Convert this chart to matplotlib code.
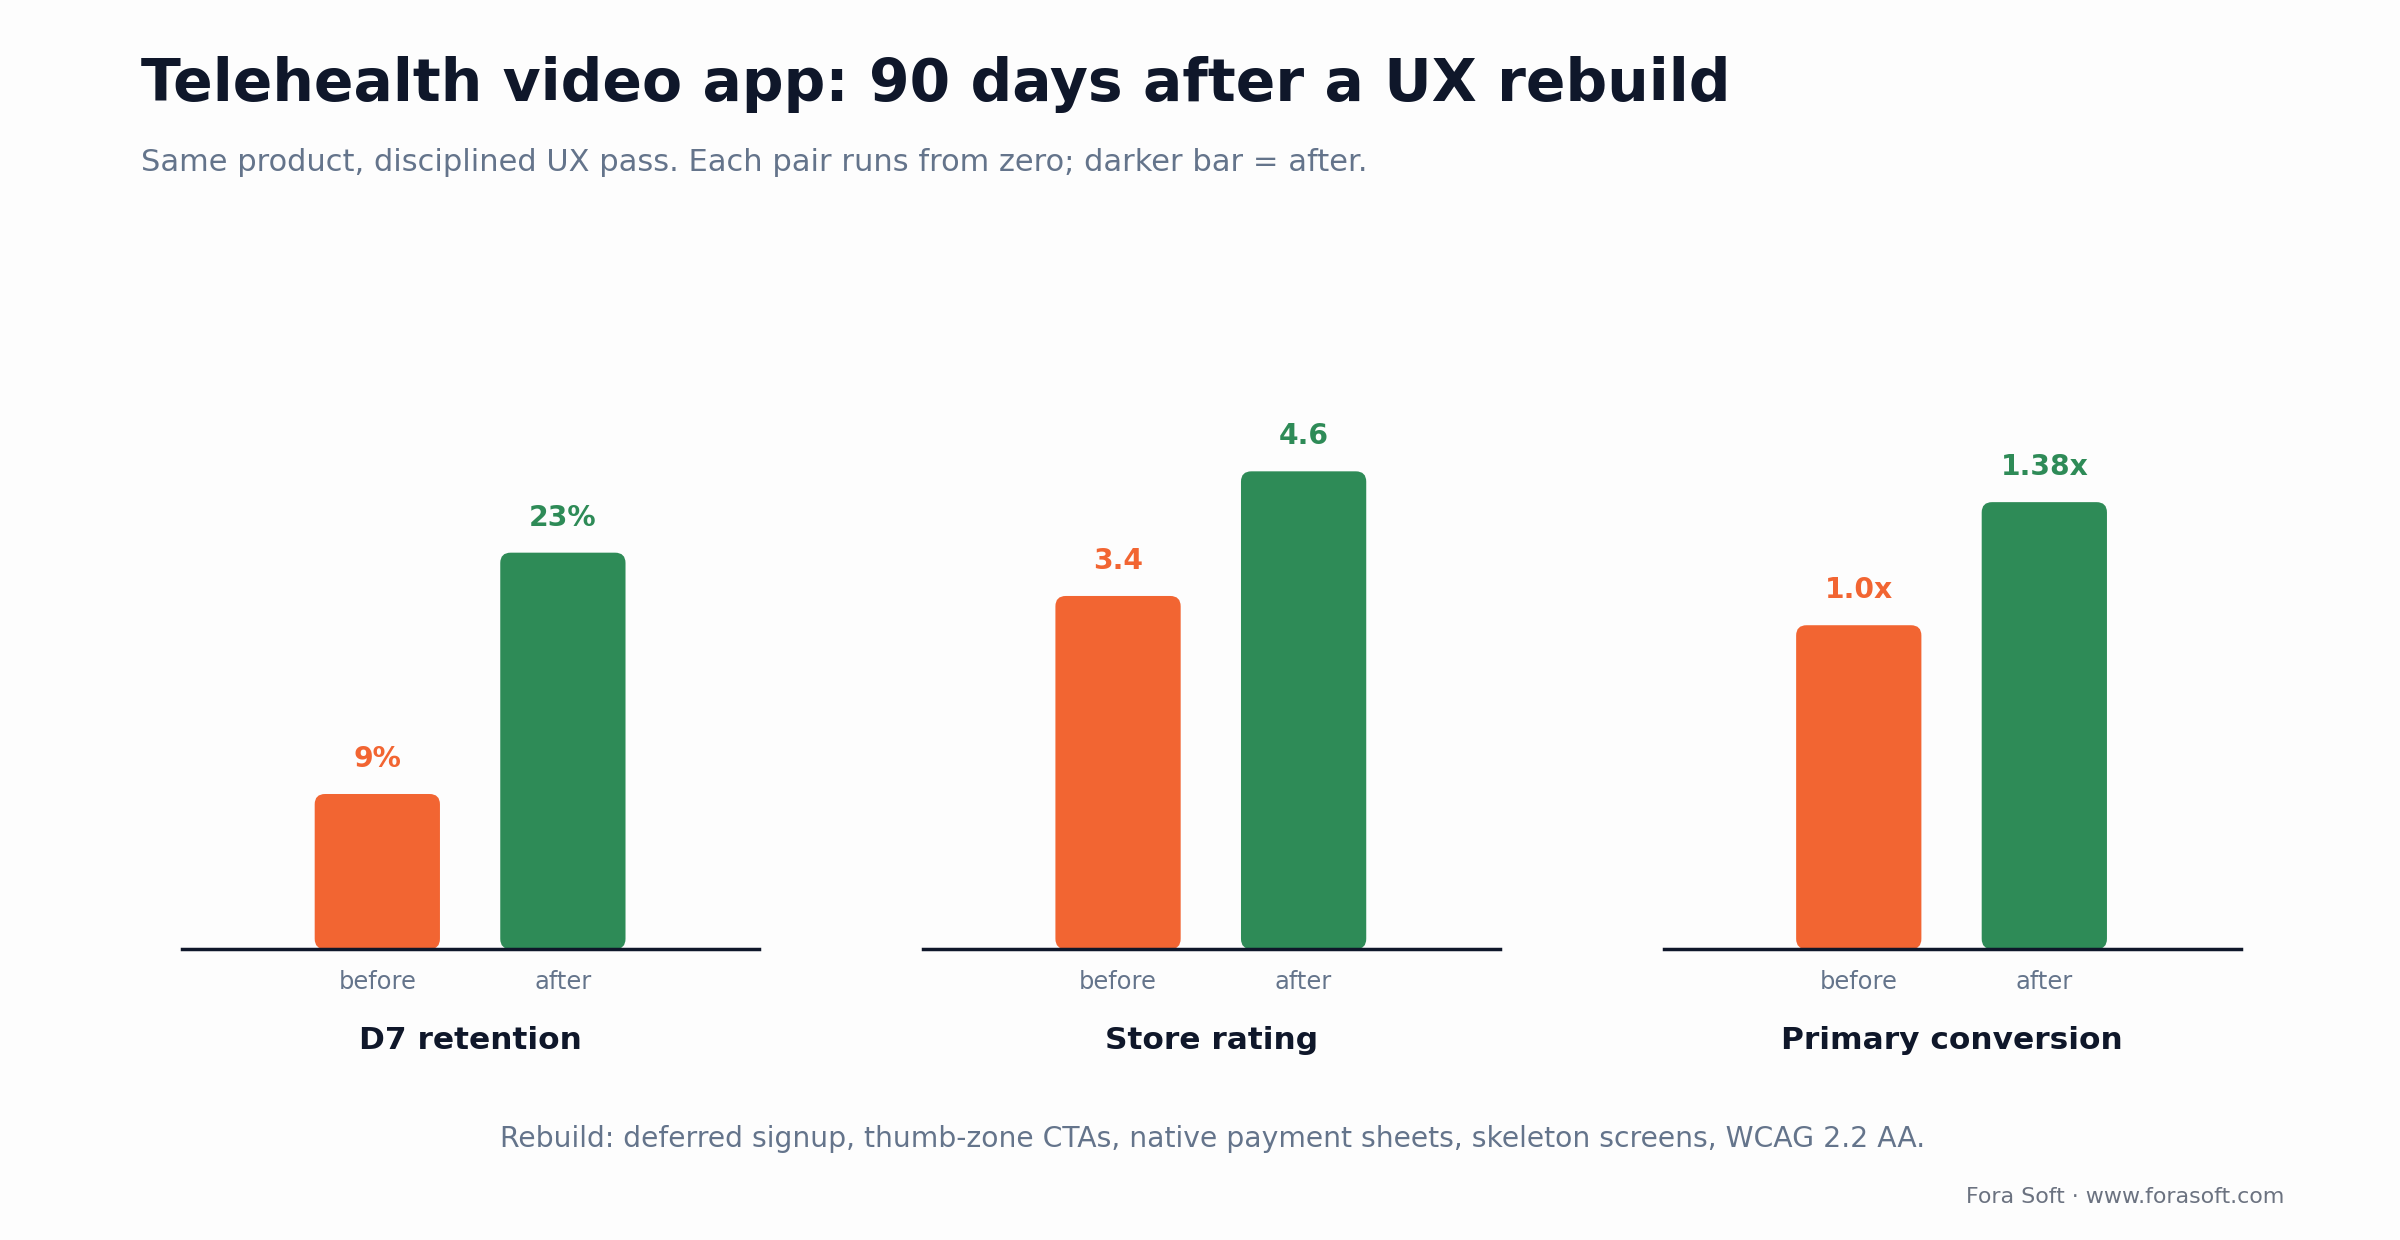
import matplotlib
matplotlib.use("Agg")
import matplotlib.pyplot as plt
from matplotlib.patches import FancyBboxPatch

categories = ["D7 retention", "Store rating", "Primary conversion"]
before_vals = [9, 3.4, 1.0]
after_vals = [23, 4.6, 1.38]
before_labels = ["9%", "3.4", "1.0x"]
after_labels = ["23%", "4.6", "1.38x"]
y_tops = [37.3, 6.19, 1.985]
tick_labels = ["before", "after"]

ORANGE = "#F26532"; GREEN = "#2E8B57"; DARK = "#0F172A"; GRAY = "#64748B"
plt.rcParams['font.family'] = ['DejaVu Sans']
W, H = 1552, 810
S = 1.45
fig = plt.figure(figsize=(24, 12.4), dpi=100, facecolor="#FDFDFD")

def fx(x): return x / W
def fy(y): return 1 - y / H

lefts = [118, 597, 1076]
pw = 373
base, top = 620, 200
for i, l in enumerate(lefts):
    ax = fig.add_axes([fx(l), fy(base), pw / W, (base - top) / H])
    ax.set_xlim(0, 1); ax.set_ylim(0, y_tops[i])
    ax.axis("off")
    ax.patch.set_alpha(0)
    xs = [(244 - 118) / pw, (364 - 118) / pw]
    bw = 81 / pw
    aspect = (y_tops[i] / (base - top)) / (1 / pw)
    bars = ax.bar(xs, [before_vals[i], after_vals[i]], width=bw, color=[ORANGE, GREEN])
    for b, c in zip(bars, [ORANGE, GREEN]):
        b.set_visible(False)
        r = 0.018
        p = FancyBboxPatch((b.get_x() + r, r * aspect), b.get_width() - 2 * r,
                           b.get_height() - 2 * r * aspect,
                           boxstyle=f"round,pad={r}", mutation_aspect=aspect,
                           fc=c, ec="none")
        ax.add_patch(p)
    ax.axhline(0, color=DARK, lw=2.5, clip_on=False)
    for x, v, lab, c in zip(xs, [before_vals[i], after_vals[i]],
                            [before_labels[i], after_labels[i]], [ORANGE, GREEN]):
        ax.annotate(lab, (x, v), xytext=(0, 15), textcoords="offset points",
                    ha="center", va="bottom", fontsize=14 * S, fontweight="bold", color=c)
    for x, t in zip(xs, tick_labels):
        ax.annotate(t, (x, 0), xytext=(0, -24), textcoords="offset points",
                    ha="center", va="center", fontsize=12 * S, color=GRAY)
    ax.annotate(categories[i], (0.5, 0), xycoords=("axes fraction", "data"),
                xytext=(0, -66), textcoords="offset points",
                ha="center", va="center", fontsize=15.5 * S, fontweight="bold", color=DARK)

fig.text(fx(91), fy(55), "Telehealth video app: 90 days after a UX rebuild",
         fontsize=29 * S, fontweight="bold", color=DARK, va="center")
fig.text(fx(91), fy(106), "Same product, disciplined UX pass. Each pair runs from zero; darker bar = after.",
         fontsize=15.5 * 1.42, color=GRAY, va="center")
fig.text(fx(784), fy(744), "Rebuild: deferred signup, thumb-zone CTAs, native payment sheets, skeleton screens, WCAG 2.2 AA.",
         fontsize=14 * S, color=GRAY, ha="center", va="center")
fig.text(fx(1477), fy(782), "Fora Soft · www.forasoft.com", fontsize=11 * S, color="#6B7280",
         ha="right", va="center")
fig.savefig("out.png", dpi=100, facecolor=fig.get_facecolor())
